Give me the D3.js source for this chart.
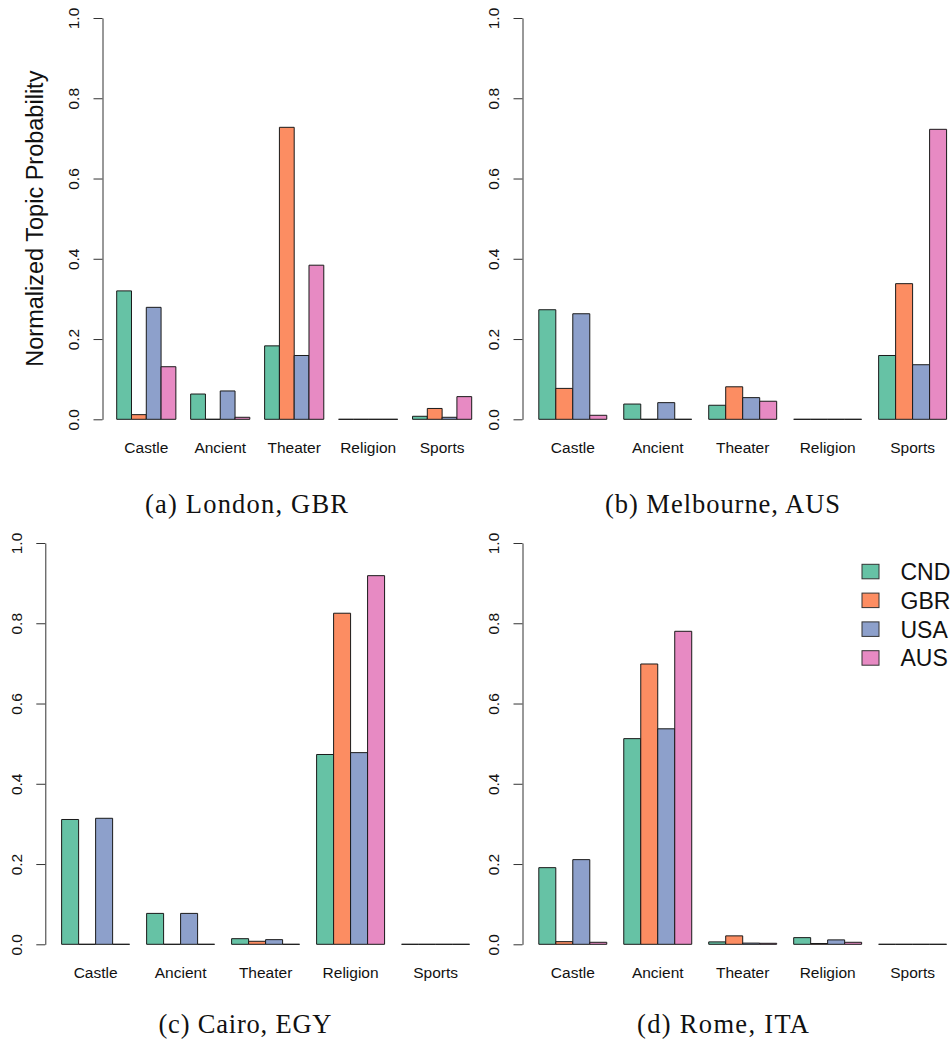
<!DOCTYPE html>
<html>
<head>
<meta charset="utf-8">
<script src="https://cdn.jsdelivr.net/npm/d3@7"></script>
<style>
  html, body { margin: 0; padding: 0; background: #fff; }
  svg { display: block; }
  .sans { font-family: "Liberation Sans", Arial, Helvetica, sans-serif; }
  .serif { font-family: "Liberation Serif", "Times New Roman", serif; }
</style>
</head>
<body>
<svg id="chart" width="952" height="1045"></svg>
<script>
// ---------------- data ----------------
const categories = ["Castle", "Ancient", "Theater", "Religion", "Sports"];
const series = ["CND", "GBR", "USA", "AUS"];
const seriesColors = ["#66C2A5", "#FC8D62", "#8DA0CB", "#E78AC3"];
const yTicks = [0, 0.2, 0.4, 0.6, 0.8, 1.0];

// rows follow `series` order, columns follow `categories` order
const londonValues = [
  [0.320, 0.063, 0.183, 0, 0.0075],
  [0.0116, 0, 0.7276, 0, 0.027],
  [0.279, 0.0706, 0.159, 0, 0.005],
  [0.131, 0.005, 0.384, 0, 0.0565]
];
const melbourneValues = [
  [0.273, 0.038, 0.035, 0, 0.159],
  [0.077, 0, 0.081, 0, 0.338],
  [0.263, 0.0415, 0.054, 0, 0.136],
  [0.010, 0, 0.045, 0, 0.7226]
];
const cairoValues = [
  [0.311, 0.077, 0.014, 0.473, 0],
  [0, 0, 0.0075, 0.825, 0],
  [0.314, 0.077, 0.0116, 0.4776, 0],
  [0, 0, 0, 0.9186, 0]
];
const romeValues = [
  [0.191, 0.5125, 0.006, 0.0166, 0],
  [0.0066, 0.6985, 0.021, 0.002, 0],
  [0.211, 0.537, 0.003, 0.011, 0],
  [0.005, 0.780, 0.0025, 0.005, 0]
];
const panelCaptions = ["(a) London, GBR", "(b) Melbourne, AUS", "(c) Cairo, EGY", "(d) Rome, ITA"];
const yAxisTitle = "Normalized Topic Probability";

// ---------------- layout ----------------
const svg = d3.select("#chart");
const panels = [
  { values: londonValues,    x: [102.5, 485.9], y: [419.3, 18],  cap: [246.5, 513, 203], label: true },
  { values: melbourneValues, x: [522.5, 962.9], y: [419.3, 18],  cap: [722.5, 513, 235] },
  { values: cairoValues,     x: [45.3, 485.9],  y: [944.3, 543], cap: [245, 1033, 173] },
  { values: romeValues,      x: [522.5, 962.9], y: [944.3, 543], cap: [723, 1033, 172], legend: true }
];

panels.forEach((p, pi) => {
  const g = svg.append("g");
  const x0 = d3.scaleBand().domain(categories).range(p.x).paddingInner(0.2).paddingOuter(0.192);
  const x1 = d3.scaleBand().domain(series).range([0, x0.bandwidth()]).padding(0);
  const y = d3.scaleLinear().domain([0, 1]).range(p.y);
  const color = d3.scaleOrdinal().domain(series).range(seriesColors);

  // bars
  const cells = [];
  series.forEach((s, si) => categories.forEach((c, ci) => cells.push({ s, c, v: p.values[si][ci] })));
  g.selectAll("path.bar").data(cells).enter().append("path")
    .attr("class", "bar")
    .attr("d", d => {
      const xa = x0(d.c) + x1(d.s), xb = xa + x1.bandwidth();
      return `M${xa},${y(0)}V${y(d.v)}H${xb}V${y(0)}Z`;
    })
    .attr("fill", d => color(d.s))
    .attr("stroke", "#1a1a1a")
    .attr("stroke-width", 1);

  // y axis
  const ax = g.append("g")
    .attr("transform", `translate(${p.x[0]},0)`)
    .call(d3.axisLeft(y).tickValues(yTicks).tickFormat(d3.format(".1f")).tickSize(9).tickSizeOuter(0));
  ax.select(".domain").attr("stroke", "#333");
  ax.selectAll(".tick line").attr("stroke", "#333");
  ax.selectAll(".tick text")
    .attr("x", null).attr("dy", null)
    .attr("transform", "translate(-23.5,0) rotate(-90)")
    .attr("text-anchor", "middle")
    .attr("fill", "#111")
    .attr("font-family", "Liberation Sans, Arial, Helvetica, sans-serif")
    .attr("font-size", "15.5px");

  // category labels
  g.selectAll("text.cat").data(categories).enter().append("text")
    .attr("class", "cat sans")
    .attr("x", d => x0(d) + x0.bandwidth() / 2)
    .attr("y", y(0) + 34)
    .attr("text-anchor", "middle")
    .attr("font-size", "15.5px")
    .attr("fill", "#111")
    .text(d => d);

  // caption
  g.append("text")
    .attr("class", "serif")
    .attr("x", p.cap[0]).attr("y", p.cap[1])
    .attr("text-anchor", "middle")
    .attr("font-size", "26.5px")
    .attr("textLength", p.cap[2])
    .attr("lengthAdjust", "spacing")
    .attr("fill", "#111")
    .text(panelCaptions[pi]);

  if (p.label) {
    g.append("text")
      .attr("class", "sans")
      .attr("transform", `translate(42.5,${(p.y[0] + p.y[1]) / 2}) rotate(-90)`)
      .attr("text-anchor", "middle")
      .attr("font-size", "23.5px")
      .attr("fill", "#111")
      .text(yAxisTitle);
  }

  if (p.legend) {
    const lg = g.append("g");
    const ly = d3.scalePoint().domain(series).range([564.3, 650.7]);
    lg.selectAll("rect").data(series).enter().append("rect")
      .attr("x", 862).attr("y", d => ly(d))
      .attr("width", 17).attr("height", 14.5)
      .attr("fill", d => color(d))
      .attr("stroke", "#333").attr("stroke-width", 1);
    lg.selectAll("text").data(series).enter().append("text")
      .attr("class", "sans")
      .attr("x", 900.5).attr("y", d => ly(d) + 15.7)
      .attr("font-size", "23px")
      .attr("fill", "#111")
      .text(d => d);
  }
});
</script>
</body>
</html>
